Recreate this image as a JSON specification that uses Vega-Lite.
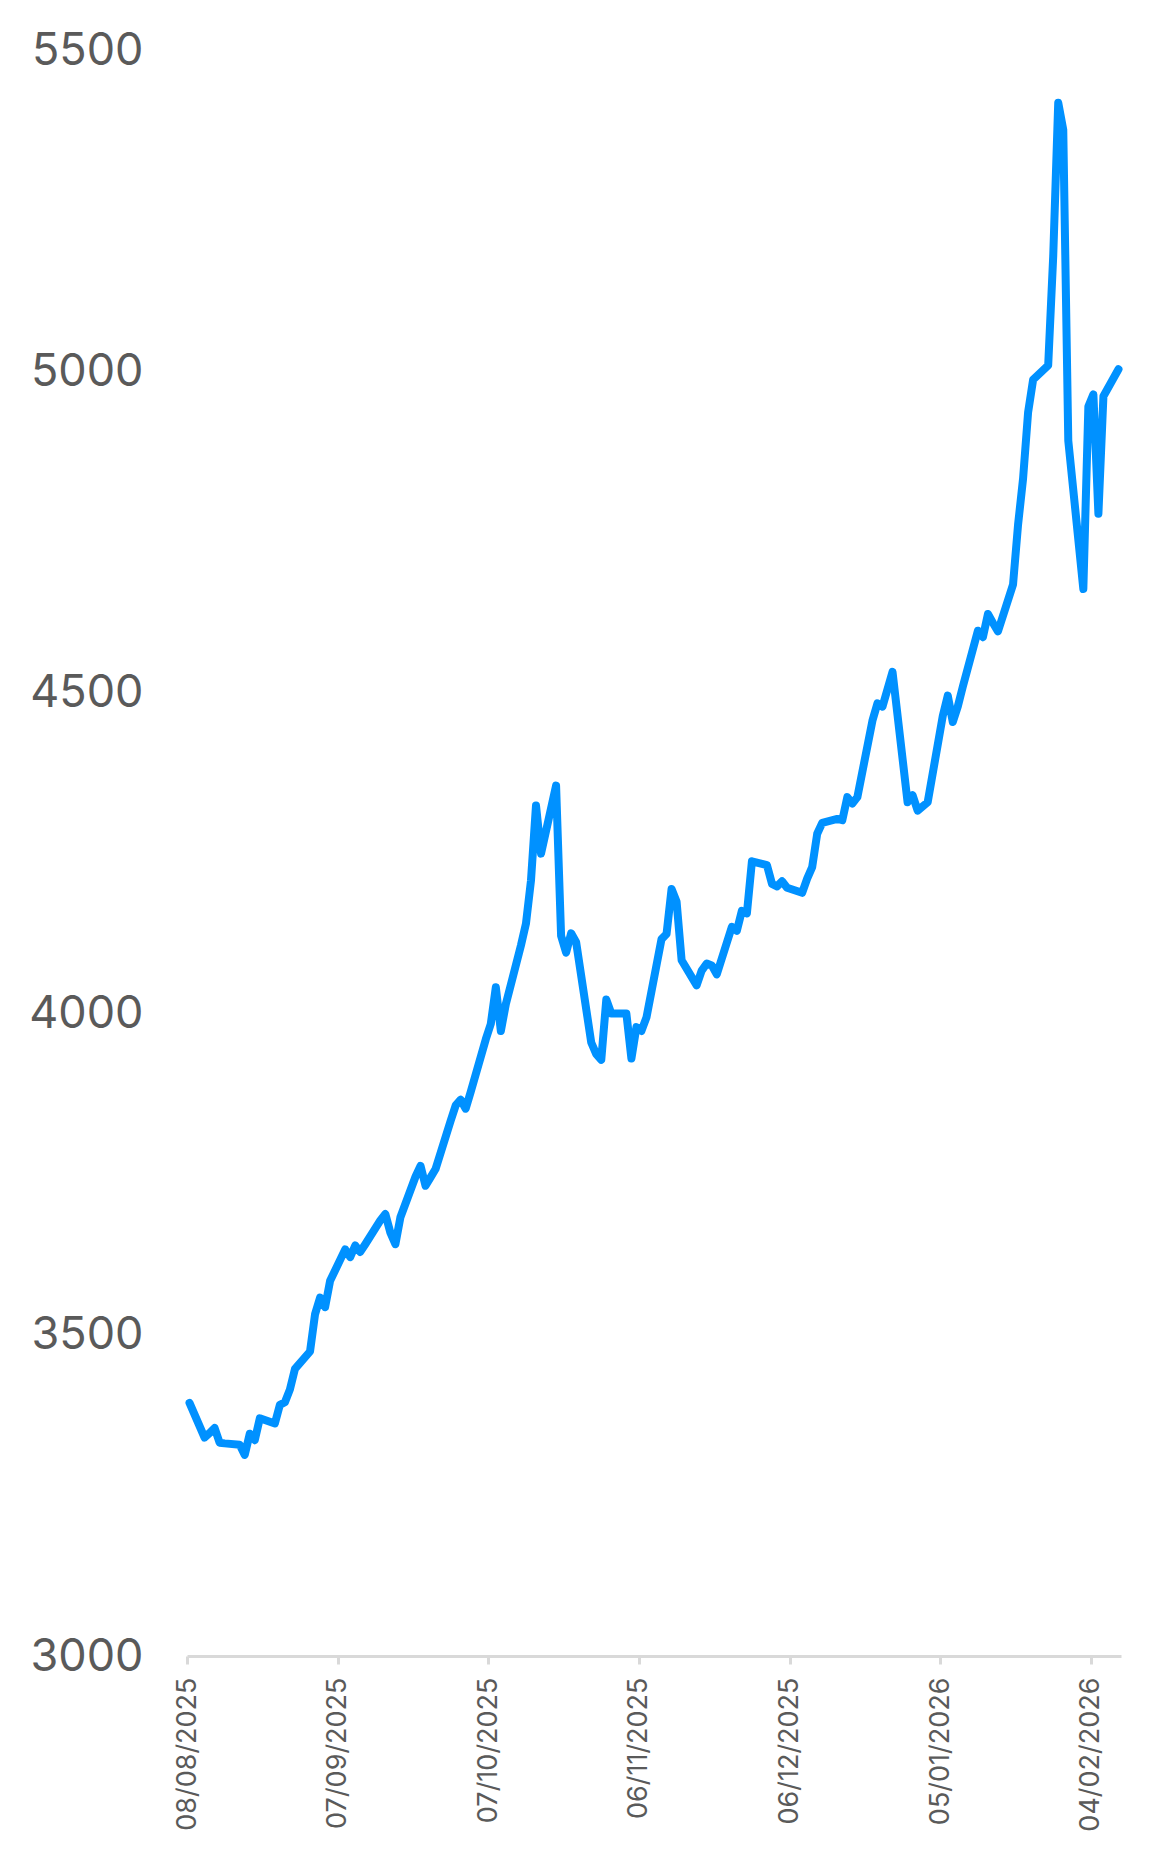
{
  "$schema": "https://vega.github.io/schema/vega-lite/v6.json",
  "autosize": {"type": "none"},
  "padding": {"left": 187, "top": 50, "right": 50, "bottom": 205},
  "width": 934,
  "height": 1606,
  "background": "#ffffff",
  "config": {"view": {"stroke": null}},
  "data": {"values": [
    {"date": "2025-08-08T12:00:00Z", "price": 3394},
    {"date": "2025-08-11T12:00:00Z", "price": 3340},
    {"date": "2025-08-12T12:00:00Z", "price": 3347},
    {"date": "2025-08-13T12:00:00Z", "price": 3355},
    {"date": "2025-08-14T12:00:00Z", "price": 3332},
    {"date": "2025-08-15T12:00:00Z", "price": 3331},
    {"date": "2025-08-18T12:00:00Z", "price": 3329},
    {"date": "2025-08-19T12:00:00Z", "price": 3313},
    {"date": "2025-08-20T12:00:00Z", "price": 3346},
    {"date": "2025-08-21T12:00:00Z", "price": 3336},
    {"date": "2025-08-22T12:00:00Z", "price": 3370},
    {"date": "2025-08-25T12:00:00Z", "price": 3362},
    {"date": "2025-08-26T12:00:00Z", "price": 3391},
    {"date": "2025-08-27T12:00:00Z", "price": 3395},
    {"date": "2025-08-28T12:00:00Z", "price": 3415},
    {"date": "2025-08-29T12:00:00Z", "price": 3447},
    {"date": "2025-09-01T12:00:00Z", "price": 3474},
    {"date": "2025-09-02T12:00:00Z", "price": 3532},
    {"date": "2025-09-03T12:00:00Z", "price": 3558},
    {"date": "2025-09-04T12:00:00Z", "price": 3543},
    {"date": "2025-09-05T12:00:00Z", "price": 3584},
    {"date": "2025-09-08T12:00:00Z", "price": 3633},
    {"date": "2025-09-09T12:00:00Z", "price": 3621},
    {"date": "2025-09-10T12:00:00Z", "price": 3639},
    {"date": "2025-09-11T12:00:00Z", "price": 3629},
    {"date": "2025-09-12T12:00:00Z", "price": 3641},
    {"date": "2025-09-15T12:00:00Z", "price": 3678},
    {"date": "2025-09-16T12:00:00Z", "price": 3688},
    {"date": "2025-09-17T12:00:00Z", "price": 3659},
    {"date": "2025-09-18T12:00:00Z", "price": 3641},
    {"date": "2025-09-19T12:00:00Z", "price": 3683},
    {"date": "2025-09-22T12:00:00Z", "price": 3746},
    {"date": "2025-09-23T12:00:00Z", "price": 3763},
    {"date": "2025-09-24T12:00:00Z", "price": 3732},
    {"date": "2025-09-25T12:00:00Z", "price": 3745},
    {"date": "2025-09-26T12:00:00Z", "price": 3758},
    {"date": "2025-09-29T12:00:00Z", "price": 3833},
    {"date": "2025-09-30T12:00:00Z", "price": 3857},
    {"date": "2025-10-01T12:00:00Z", "price": 3866},
    {"date": "2025-10-02T12:00:00Z", "price": 3852},
    {"date": "2025-10-03T12:00:00Z", "price": 3878},
    {"date": "2025-10-06T12:00:00Z", "price": 3960},
    {"date": "2025-10-07T12:00:00Z", "price": 3984},
    {"date": "2025-10-08T12:00:00Z", "price": 4041},
    {"date": "2025-10-09T12:00:00Z", "price": 3973},
    {"date": "2025-10-10T12:00:00Z", "price": 4015},
    {"date": "2025-10-13T12:00:00Z", "price": 4106},
    {"date": "2025-10-14T12:00:00Z", "price": 4140},
    {"date": "2025-10-15T12:00:00Z", "price": 4207},
    {"date": "2025-10-16T12:00:00Z", "price": 4324},
    {"date": "2025-10-17T12:00:00Z", "price": 4249},
    {"date": "2025-10-20T12:00:00Z", "price": 4355},
    {"date": "2025-10-21T12:00:00Z", "price": 4121},
    {"date": "2025-10-22T12:00:00Z", "price": 4095},
    {"date": "2025-10-23T12:00:00Z", "price": 4125},
    {"date": "2025-10-24T12:00:00Z", "price": 4111},
    {"date": "2025-10-27T12:00:00Z", "price": 3955},
    {"date": "2025-10-28T12:00:00Z", "price": 3937},
    {"date": "2025-10-29T12:00:00Z", "price": 3928},
    {"date": "2025-10-30T12:00:00Z", "price": 4022},
    {"date": "2025-10-31T12:00:00Z", "price": 4000},
    {"date": "2025-11-03T12:00:00Z", "price": 4000},
    {"date": "2025-11-04T12:00:00Z", "price": 3930},
    {"date": "2025-11-05T12:00:00Z", "price": 3979},
    {"date": "2025-11-06T12:00:00Z", "price": 3973},
    {"date": "2025-11-07T12:00:00Z", "price": 3994},
    {"date": "2025-11-10T12:00:00Z", "price": 4116},
    {"date": "2025-11-11T12:00:00Z", "price": 4124},
    {"date": "2025-11-12T12:00:00Z", "price": 4194},
    {"date": "2025-11-13T12:00:00Z", "price": 4174},
    {"date": "2025-11-14T12:00:00Z", "price": 4083},
    {"date": "2025-11-17T12:00:00Z", "price": 4044},
    {"date": "2025-11-18T12:00:00Z", "price": 4067},
    {"date": "2025-11-19T12:00:00Z", "price": 4078},
    {"date": "2025-11-20T12:00:00Z", "price": 4075},
    {"date": "2025-11-21T12:00:00Z", "price": 4061},
    {"date": "2025-11-24T12:00:00Z", "price": 4135},
    {"date": "2025-11-25T12:00:00Z", "price": 4129},
    {"date": "2025-11-26T12:00:00Z", "price": 4160},
    {"date": "2025-11-27T12:00:00Z", "price": 4156},
    {"date": "2025-11-28T12:00:00Z", "price": 4237},
    {"date": "2025-12-01T12:00:00Z", "price": 4231},
    {"date": "2025-12-02T12:00:00Z", "price": 4202},
    {"date": "2025-12-03T12:00:00Z", "price": 4198},
    {"date": "2025-12-04T12:00:00Z", "price": 4206},
    {"date": "2025-12-05T12:00:00Z", "price": 4196},
    {"date": "2025-12-08T12:00:00Z", "price": 4188},
    {"date": "2025-12-09T12:00:00Z", "price": 4210},
    {"date": "2025-12-10T12:00:00Z", "price": 4228},
    {"date": "2025-12-11T12:00:00Z", "price": 4280},
    {"date": "2025-12-12T12:00:00Z", "price": 4297},
    {"date": "2025-12-15T12:00:00Z", "price": 4303},
    {"date": "2025-12-16T12:00:00Z", "price": 4301},
    {"date": "2025-12-17T12:00:00Z", "price": 4337},
    {"date": "2025-12-18T12:00:00Z", "price": 4327},
    {"date": "2025-12-19T12:00:00Z", "price": 4337},
    {"date": "2025-12-22T12:00:00Z", "price": 4456},
    {"date": "2025-12-23T12:00:00Z", "price": 4483},
    {"date": "2025-12-24T12:00:00Z", "price": 4478},
    {"date": "2025-12-26T12:00:00Z", "price": 4532},
    {"date": "2025-12-29T12:00:00Z", "price": 4329},
    {"date": "2025-12-30T12:00:00Z", "price": 4340},
    {"date": "2025-12-31T12:00:00Z", "price": 4316},
    {"date": "2026-01-02T12:00:00Z", "price": 4329},
    {"date": "2026-01-05T12:00:00Z", "price": 4463},
    {"date": "2026-01-06T12:00:00Z", "price": 4495},
    {"date": "2026-01-07T12:00:00Z", "price": 4454},
    {"date": "2026-01-08T12:00:00Z", "price": 4478},
    {"date": "2026-01-09T12:00:00Z", "price": 4509},
    {"date": "2026-01-12T12:00:00Z", "price": 4596},
    {"date": "2026-01-13T12:00:00Z", "price": 4586},
    {"date": "2026-01-14T12:00:00Z", "price": 4622},
    {"date": "2026-01-15T12:00:00Z", "price": 4608},
    {"date": "2026-01-16T12:00:00Z", "price": 4595},
    {"date": "2026-01-19T12:00:00Z", "price": 4668},
    {"date": "2026-01-20T12:00:00Z", "price": 4761},
    {"date": "2026-01-21T12:00:00Z", "price": 4833},
    {"date": "2026-01-22T12:00:00Z", "price": 4936},
    {"date": "2026-01-23T12:00:00Z", "price": 4987},
    {"date": "2026-01-26T12:00:00Z", "price": 5009},
    {"date": "2026-01-27T12:00:00Z", "price": 5179},
    {"date": "2026-01-28T12:00:00Z", "price": 5418},
    {"date": "2026-01-29T12:00:00Z", "price": 5376},
    {"date": "2026-01-30T12:00:00Z", "price": 4892},
    {"date": "2026-02-02T12:00:00Z", "price": 4661},
    {"date": "2026-02-03T12:00:00Z", "price": 4945},
    {"date": "2026-02-04T12:00:00Z", "price": 4964},
    {"date": "2026-02-05T12:00:00Z", "price": 4778},
    {"date": "2026-02-06T12:00:00Z", "price": 4961},
    {"date": "2026-02-09T12:00:00Z", "price": 5003}
  ]},
  "mark": {"type": "line", "color": "#0091ff", "strokeWidth": 8, "strokeCap": "round", "strokeJoin": "round"},
  "encoding": {
    "x": {
      "field": "date", "type": "temporal",
      "scale": {"type": "utc", "domain": [1754611200000, 1770681600000]},
      "axis": {
        "title": null,
        "values": [1754611200000, 1757203200000, 1759795200000, 1762387200000, 1764979200000, 1767571200000, 1770163200000],
        "format": "%d/%m/%Y",
        "labelAngle": -90,
        "labelFont": "Inter",
        "labelFontSize": 27,
        "labelColor": "#5a5a5a",
        "labelPadding": 13,
        "labelOverlap": false,
        "labelFlush": false,
        "grid": false,
        "domain": true,
        "domainColor": "#d9d9d9",
        "domainWidth": 3,
        "ticks": true,
        "tickColor": "#d9d9d9",
        "tickWidth": 3,
        "tickSize": 8
      }
    },
    "y": {
      "field": "price", "type": "quantitative",
      "scale": {"domain": [3000, 5500], "nice": false, "zero": false},
      "axis": {
        "title": null,
        "values": [3000, 3500, 4000, 4500, 5000, 5500],
        "format": "d",
        "labelFont": "Inter",
        "labelFontSize": 45,
        "labelColor": "#5a5a5a",
        "labelPadding": 44,
        "labelFlush": false,
        "grid": false,
        "domain": false,
        "ticks": false
      }
    }
  }
}
